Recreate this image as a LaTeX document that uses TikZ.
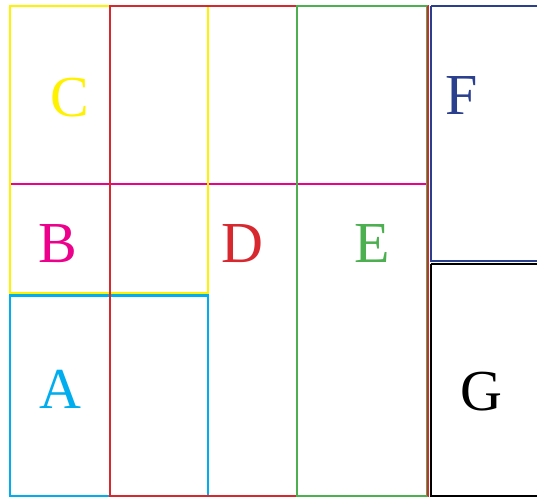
\documentclass[tikz,border=0pt]{standalone}
\usepackage{fontspec}
\setmainfont{Liberation Serif}
\definecolor{cY}{HTML}{FFF200}
\definecolor{cR}{HTML}{D7282F}
\definecolor{cM}{HTML}{EC008C}
\definecolor{cG}{HTML}{4CB050}
\definecolor{cB}{HTML}{2B3F8F}
\definecolor{cC}{HTML}{00AEEF}
\begin{document}
\begin{tikzpicture}[x=1pt,y=-1pt,
  edge/.style={line width=2.4pt},
  lbl/.style={font=\fontsize{58}{58}\selectfont, inner sep=0pt}]
\useasboundingbox (0,0) rectangle (537,498);
\fill[white] (0,0) rectangle (537,498);
% B line
\draw[edge, cM] (10,184) -- (428,184);
% A
\draw[edge, cC] (10,295.5) rectangle (208,496);
% C
\draw[edge, cY] (10,6) rectangle (208,293);
% D
\draw[edge, cR] (110,6) rectangle (428,496);
% E
\draw[edge, cG] (297,6) rectangle (427,496);
\draw[edge, cR] (428,6) -- (428,496);
% F
\draw[edge, cB] (431,6) -- (540,6);
\draw[edge, cB] (431,6) -- (431,261) -- (540,261);
% G
\draw[edge, black] (431,264) -- (540,264);
\draw[edge, black] (431,264) -- (431,496) -- (540,496);
\node[lbl, text=cY] (C) at (70,98) {C};
\node[lbl, text=cM] (B) at (58,244) {B};
\node[lbl, text=cC] (A) at (60,389) {A};
\node[lbl, text=cR] (D) at (242,244) {D};
\node[lbl, text=cG] (E) at (372,244) {E};
\node[lbl, text=cB] (F) at (462,96) {F};
\node[lbl, text=black] (G) at (481,392) {G};
\end{tikzpicture}
\end{document}
